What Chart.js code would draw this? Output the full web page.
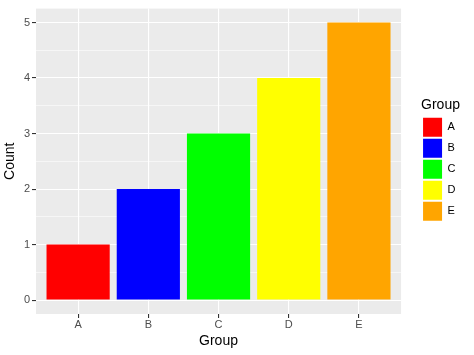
<!DOCTYPE html>
<html><head><meta charset="utf-8">
<script src="https://cdn.jsdelivr.net/npm/chart.js@4"></script>
<style>html,body{margin:0;padding:0;background:#fff}#wrap{width:474px;height:355px;position:relative}</style>
</head><body><div id="wrap"><canvas id="c" width="474" height="355"></canvas></div>
<script>
const categories = ['A', 'B', 'C', 'D', 'E'];
const counts = [1, 2, 3, 4, 5];
const barColors = ['#FF0000', '#0000FF', '#00FF00', '#FFFF00', '#FFA500'];
const yMajorTicks = [0, 1, 2, 3, 4, 5];
const yMinorTicks = [0.5, 1.5, 2.5, 3.5, 4.5];
const legendTitle = 'Group';
const xTitle = 'Group';
const yTitle = 'Count';

const FONT = "'Liberation Sans', Arial, Helvetica, sans-serif";
const isMajor = v => Math.abs(v - Math.round(v)) < 1e-9;

const panelBg = {
  id: 'panelBg',
  beforeDraw(chart) {
    const {ctx, chartArea: a} = chart;
    ctx.save();
    ctx.fillStyle = '#EBEBEB';
    ctx.fillRect(a.left, a.top, a.right - a.left, a.bottom - a.top);
    ctx.restore();
  }
};

new Chart(document.getElementById('c'), {
  type: 'bar',
  data: {
    datasets: [{
      label: 'Count',
      data: categories.map((c, i) => ({x: i, y: counts[i]})),
      backgroundColor: barColors,
      borderWidth: 0,
      barPercentage: 0.9,
      categoryPercentage: 1.0
    }]
  },
  options: {
    responsive: false,
    animation: false,
    devicePixelRatio: 1,
    layout: {padding: {left: 0, right: 8.5, top: 5, bottom: 0}},
    scales: {
      x: {
        type: 'linear',
        offset: false,
        min: -0.6, max: 4.6,
        afterBuildTicks: s => { s.ticks = categories.map((c, i) => ({value: i})); },
        afterFit: s => { s.height = 41; },
        grid: {offset: false, color: '#FFFFFF', lineWidth: 1.1, tickColor: '#333333', tickLength: 4, tickWidth: 1.1},
        border: {display: false},
        ticks: {
          callback: v => categories[Math.round(v)] ?? '',
          color: '#4D4D4D', font: {family: FONT, size: 11}, padding: 0.5, maxRotation: 0, autoSkip: false
        },
        title: {display: true, text: xTitle, color: '#000000', font: {family: FONT, size: 14}, padding: {top: 0, bottom: 5}}
      },
      y: {
        type: 'linear',
        min: -0.25, max: 5.25,
        afterBuildTicks: s => { s.ticks = [...yMajorTicks, ...yMinorTicks].sort((a, b) => a - b).map(v => ({value: v})); },
        afterFit: s => { s.width = 36; },
        grid: {
          color: '#FFFFFF',
          lineWidth: c => (c.tick && isMajor(c.tick.value)) ? 1.1 : 0.55,
          tickColor: c => (c.tick && isMajor(c.tick.value)) ? '#333333' : 'rgba(0,0,0,0)',
          tickLength: 4, tickWidth: 1.1
        },
        border: {display: false},
        ticks: {
          callback: v => isMajor(v) ? String(Math.round(v)) : '',
          color: '#4D4D4D', font: {family: FONT, size: 11}, padding: 2, autoSkip: false
        },
        title: {display: true, text: yTitle, color: '#000000', font: {family: FONT, size: 14}, padding: {top: 2, bottom: 0}}
      },
      spacer: {
        type: 'linear', position: 'right', display: true,
        grid: {display: false, drawTicks: false}, border: {display: false},
        ticks: {display: false},
        afterFit: s => { s.width = 20; }
      }
    },
    plugins: {
      tooltip: {enabled: false},
      legend: {
        position: 'right', align: 'start',
        title: {display: true, text: legendTitle, position: 'start', color: '#000000',
                font: {family: FONT, size: 14}, padding: {top: 93, bottom: 1}},
        labels: {
          boxWidth: 19, boxHeight: 19, padding: 2, color: '#000000',
          font: {family: FONT, size: 11},
          generateLabels: () => categories.map((c, i) => ({
            text: c, fillStyle: barColors[i], strokeStyle: barColors[i], lineWidth: 0,
            hidden: false, index: i, datasetIndex: 0, fontColor: '#000000'
          }))
        }
      }
    }
  },
  plugins: [panelBg]
});
</script>
</body></html>
